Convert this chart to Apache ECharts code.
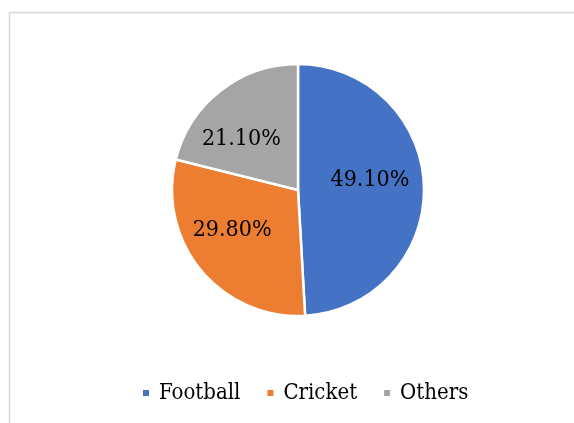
<!DOCTYPE html>
<html>
<head>
<meta charset="utf-8">
<script src="https://cdn.jsdelivr.net/npm/echarts@6/dist/echarts.min.js"></script>
<style>
  html, body { margin: 0; padding: 0; background: #fff; }
  #chart { width: 574px; height: 423px; }
</style>
</head>
<body>
<div id="chart"></div>
<script>
// data
const categories = ['Football', 'Cricket', 'Others'];
const shares = [49.1, 29.8, 21.1];
const colors = ['#4472C4', '#ED7D31', '#A5A5A5'];

// nudge labels toward where Excel put them
const labelOffsets = [[6, -8], [-15, -2], [-16, 1]];

const pieData = categories.map((name, i) => ({
	name: name,
	value: shares[i],
	itemStyle: { color: colors[i] },
	label: { offset: labelOffsets[i] }
}));

const chart = echarts.init(document.getElementById('chart'));
chart.setOption({
	animation: false,
	backgroundColor: '#ffffff',
	graphic: [
		{ type: 'line', silent: true, shape: { x1: 9.5, y1: 12.5, x2: 574, y2: 12.5 }, style: { stroke: '#d6d6d6', lineWidth: 1.5 } },
		{ type: 'line', silent: true, shape: { x1: 9.5, y1: 12.5, x2: 9.5, y2: 423 }, style: { stroke: '#d6d6d6', lineWidth: 1.5 } }
	],
	legend: {
		data: categories,
		left: 141,
		top: 382,
		padding: 0,
		icon: 'rect',
		itemWidth: 8,
		itemHeight: 8,
		itemGap: 25,
		textStyle: {
			fontFamily: 'DejaVu Serif Condensed',
			fontSize: 22,
			color: '#000',
			padding: [0, 0, 0, 4]
		}
	},
	series: [{
		type: 'pie',
		center: [298, 190],
		radius: [0, 126],
		startAngle: 90,
		clockwise: true,
		silent: true,
		data: pieData,
		itemStyle: {
			borderColor: '#ffffff',
			borderWidth: 2.5
		},
		label: {
			show: true,
			position: 'inside',
			formatter: p => p.value.toFixed(2) + '%',
			fontFamily: 'DejaVu Serif Condensed',
			fontSize: 23,
			color: '#000'
		},
		labelLine: { show: false }
	}]
});
</script>
</body>
</html>
